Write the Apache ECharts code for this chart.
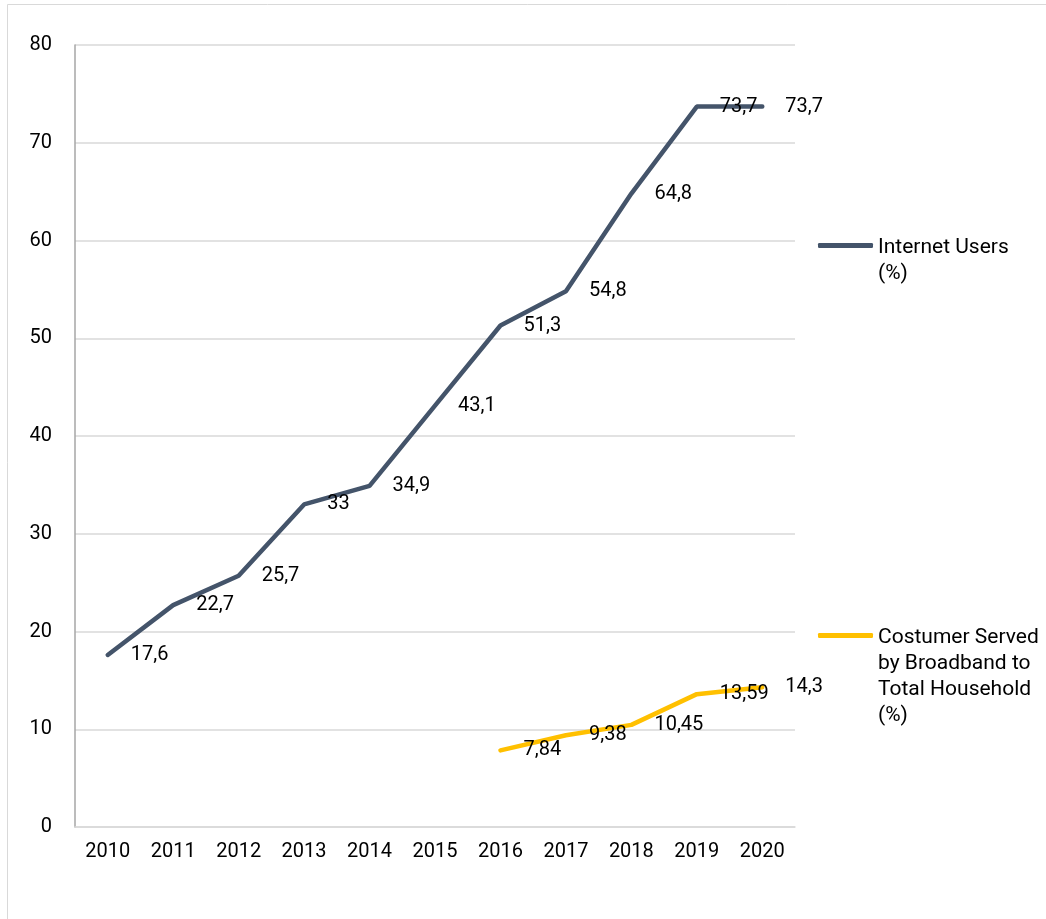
<!DOCTYPE html>
<html>
<head>
<meta charset="utf-8">
<script src="https://cdn.jsdelivr.net/npm/echarts@6/dist/echarts.min.js"></script>
<style>
  html, body { margin: 0; padding: 0; background: #fff; }
  #chart { width: 1046px; height: 919px; }
</style>
</head>
<body>
<div id="chart"></div>
<script>
const years = ['2010', '2011', '2012', '2013', '2014', '2015', '2016', '2017', '2018', '2019', '2020'];
const internetUsers = [17.6, 22.7, 25.7, 33, 34.9, 43.1, 51.3, 54.8, 64.8, 73.7, 73.7];
const broadbandHouseholds = [null, null, null, null, null, null, 7.84, 9.38, 10.45, 13.59, 14.3];
const seriesNames = ['Internet Users (%)', 'Costumer Served by Broadband to Total Household (%)'];
const legendLines = [
  ['Internet Users', '(%)'],
  ['Costumer Served', 'by Broadband to', 'Total Household', '(%)']
];

const fontFamily = 'Roboto, "Noto Sans", sans-serif';
const textColor = '#000';
const fmt = v => String(v).replace('.', ',');
const LINE_H = 26;

// legend text is vertically centred on its icon; leading spacer lines
// keep the icon level with the first line of a wrapped name
function legendText(lines) {
  const spacer = lines.length > 1 ? '{g| }\n'.repeat(lines.length - 1) : '';
  return spacer + lines.map(l => '{t|' + l + '}').join('\n');
}
function spacerHeight(n) {
  return n > 1 ? (LINE_H * (n - 1) + 5) / (n - 1) : LINE_H;
}

const labelStyle = {
  show: true,
  position: 'right',
  distance: 23,
  fontSize: 20,
  fontFamily,
  color: textColor,
  formatter: p => fmt(p.value)
};

const chart = echarts.init(document.getElementById('chart'), null, { renderer: 'canvas' });

function legendFor(idx, top) {
  const n = legendLines[idx].length;
  return {
    data: [seriesNames[idx]],
    left: 818, top, padding: 0,
    icon: 'roundRect', itemWidth: 55, itemHeight: 5,
    formatter: () => legendText(legendLines[idx]),
    textStyle: {
      fontSize: 21, fontFamily, color: textColor, lineHeight: LINE_H,
      rich: {
        g: { fontSize: 21, fontFamily, lineHeight: spacerHeight(n) },
        t: { fontSize: 21, fontFamily, color: textColor, lineHeight: LINE_H }
      }
    }
  };
}

chart.setOption({
  backgroundColor: '#fff',
  animation: false,
  graphic: [{
    type: 'rect',
    shape: { x: 7.5, y: 4.5, width: 1100, height: 1000 },
    style: { fill: 'none', stroke: '#d9d9d9', lineWidth: 1 },
    silent: true,
    z: -10
  }],
  grid: { left: 75, right: 251, top: 45, bottom: 92 },
  legend: [legendFor(0, 204), legendFor(1, 542)],
  xAxis: {
    type: 'category',
    data: years,
    boundaryGap: true,
    axisLine: { show: true, lineStyle: { color: '#d9d9d9', width: 1.5 } },
    axisTick: { show: false },
    axisLabel: { fontSize: 20, fontFamily, color: textColor, margin: 15 }
  },
  yAxis: {
    type: 'value',
    min: 0, max: 80, interval: 10,
    axisLine: { show: true, lineStyle: { color: '#a6a6a6', width: 1.5 } },
    axisTick: { show: false },
    axisLabel: { fontSize: 20, fontFamily, color: textColor, margin: 23 },
    splitLine: { show: true, lineStyle: { color: '#d9d9d9', width: 1.5 } }
  },
  series: [
    {
      name: seriesNames[0],
      type: 'line',
      data: internetUsers,
      symbol: 'circle',
      symbolSize: 0.1,
      showSymbol: true,
      color: '#44546A',
      itemStyle: { color: '#44546A' },
      lineStyle: { color: '#44546A', width: 4.5, cap: 'round' },
      label: labelStyle,
      labelLayout: { hideOverlap: false },
      z: 3
    },
    {
      name: seriesNames[1],
      type: 'line',
      data: broadbandHouseholds,
      symbol: 'circle',
      symbolSize: 0.1,
      showSymbol: true,
      color: '#FFC000',
      itemStyle: { color: '#FFC000' },
      lineStyle: { color: '#FFC000', width: 4.5, cap: 'round' },
      label: labelStyle,
      labelLayout: { hideOverlap: false },
      z: 3
    }
  ]
});
</script>
</body>
</html>
